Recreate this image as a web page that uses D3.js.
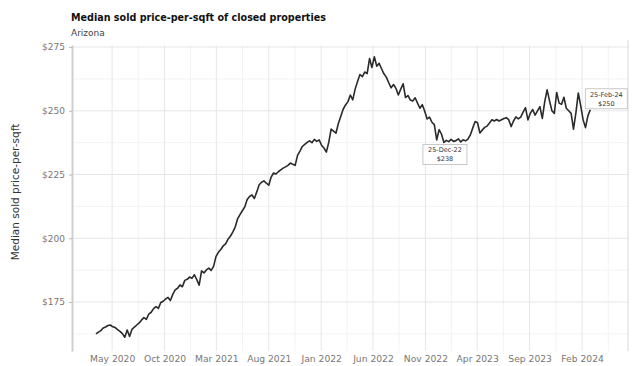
<!DOCTYPE html>
<html>
<head>
<meta charset="utf-8">
<script src="https://cdn.jsdelivr.net/npm/d3@7"></script>
<style>
  html, body { margin: 0; padding: 0; background: #fff; }
  svg { display: block; }
</style>
</head>
<body>
<svg id="chart" width="632" height="366"></svg>
<script>
// ---- data ----
const titleText = "Median sold price-per-sqft of closed properties";
const subtitleText = "Arizona";
const yAxisTitle = "Median sold price-per-sqft";
const firstWeek = "2020-03-15"; // weekly observations (Sundays)
const prices = [
  162.5,163.2,163.8,164.8,165.2,165.8,166.0,165.3,165.0,164.2,
  163.5,162.6,161.2,164.0,161.5,164.3,165.2,166.0,166.8,168.0,
  168.9,168.2,170.3,171.0,172.4,173.2,172.5,174.8,175.3,176.2,
  176.8,175.6,178.0,179.8,180.4,181.7,181.0,183.5,183.9,184.8,
  184.3,185.7,183.8,181.6,187.2,186.4,187.6,188.3,187.4,189.0,
  192.8,194.5,195.6,197.0,197.8,199.6,200.8,202.4,204.4,207.6,
  209.3,210.8,212.3,215.2,216.4,217.0,215.6,218.2,221.0,222.0,
  222.5,221.6,220.8,224.0,225.6,225.2,226.1,226.8,227.5,228.0,
  228.6,229.5,229.0,228.6,232.5,234.2,236.0,236.8,237.6,238.2,
  237.5,238.8,238.0,238.6,236.5,235.4,233.8,237.6,242.8,242.0,
  241.2,245.0,247.8,250.6,252.3,253.6,256.2,254.3,258.5,261.5,
  264.2,263.4,265.2,264.6,270.5,267.0,271.2,267.5,268.6,266.5,
  264.5,263.2,261.0,259.0,260.3,258.8,256.2,258.5,260.6,255.2,
  256.0,254.2,253.8,255.1,253.0,251.0,252.4,249.8,246.8,247.5,
  245.5,244.6,238.6,242.6,240.8,237.6,238.4,237.9,238.8,238.0,
  238.3,239.0,237.8,238.6,238.2,238.9,240.5,243.2,245.8,245.3,
  241.3,242.5,243.5,244.0,245.2,246.5,246.0,246.6,246.0,246.5,
  247.0,247.3,246.5,243.8,246.0,247.6,246.8,247.5,249.5,251.2,
  246.4,249.0,250.5,248.3,250.0,251.6,247.0,253.5,258.2,254.0,
  250.0,249.0,257.2,253.0,252.5,255.3,251.0,250.0,249.0,242.8,
  249.2,257.0,252.0,246.5,243.4,248.0,250.4
];
const xTickDates = ["2020-05-01","2020-10-01","2021-03-01","2021-08-01","2022-01-01",
                    "2022-06-01","2022-11-01","2023-04-01","2023-09-01","2024-02-01"];
const yTickValues = [175, 200, 225, 250, 275];

// ---- build ----
const parse = d3.utcParse("%Y-%m-%d");
const start = parse(firstWeek);
const series = prices.map((v, i) => ({ date: d3.utcDay.offset(start, i * 7), value: v }));
const xTicks = xTickDates.map(parse);

const W = 632, H = 366;
const m = { top: 45, right: 4, bottom: 15, left: 72 };
const svg = d3.select("#chart");

const x = d3.scaleUtc()
  .domain([parse("2020-01-05"), parse("2024-06-14")])
  .range([m.left, W - m.right]);
const y = d3.scaleLinear()
  .domain([155.8, 275.8])
  .range([H - m.bottom, m.top]);

const font = "'DejaVu Sans', Verdana, sans-serif";

// minor grid
const yMinor = d3.range(162.5, 276, 12.5).filter(v => v % 25 !== 0);
svg.append("g").selectAll("line").data(yMinor).join("line")
  .attr("x1", m.left).attr("x2", W - m.right)
  .attr("y1", d => y(d)).attr("y2", d => y(d))
  .attr("stroke", "#f3f3f3").attr("stroke-width", 1);
const xMinor = xTicks.slice(0, -1).map((d, i) => new Date((+d + +xTicks[i + 1]) / 2));
xMinor.push(new Date(+xTicks[xTicks.length - 1] + (+xTicks[1] - +xTicks[0]) / 2));
svg.append("g").selectAll("line").data(xMinor).join("line")
  .attr("x1", d => x(d)).attr("x2", d => x(d))
  .attr("y1", m.top).attr("y2", H - m.bottom)
  .attr("stroke", "#f3f3f3").attr("stroke-width", 1);

// major grid
svg.append("g").selectAll("line").data(yTickValues).join("line")
  .attr("x1", m.left).attr("x2", W - m.right)
  .attr("y1", d => y(d)).attr("y2", d => y(d))
  .attr("stroke", "#e6e6e6").attr("stroke-width", 1);
svg.append("g").selectAll("line").data(xTicks).join("line")
  .attr("x1", d => x(d)).attr("x2", d => x(d))
  .attr("y1", m.top).attr("y2", H - m.bottom)
  .attr("stroke", "#e6e6e6").attr("stroke-width", 1);

// right border
svg.append("line")
  .attr("x1", W - m.right).attr("x2", W - m.right)
  .attr("y1", m.top - 5).attr("y2", H - m.bottom)
  .attr("stroke", "#d9d9d9").attr("stroke-width", 1);

// y axis
const yAxis = svg.append("g")
  .attr("transform", `translate(${m.left},0)`)
  .call(d3.axisLeft(y).tickValues(yTickValues).tickFormat(d => "$" + d).tickSize(3).tickSizeOuter(0));
yAxis.select(".domain").attr("stroke", "#cfcfcf").attr("stroke-width", 2);
yAxis.selectAll(".tick line").attr("stroke", "#bbb");
yAxis.selectAll("text").attr("fill", "#777").attr("font-family", font).attr("font-size", 9).attr("dx", -1);

// x axis
const xAxis = svg.append("g")
  .attr("transform", `translate(0,${H - m.bottom})`)
  .call(d3.axisBottom(x).tickValues(xTicks).tickFormat(d3.utcFormat("%b %Y")).tickSize(0));
xAxis.select(".domain").remove();
xAxis.selectAll("text").attr("fill", "#777").attr("font-family", font).attr("font-size", 9.2).attr("dy", "0.85em");

// line
svg.append("path")
  .datum(series)
  .attr("fill", "none")
  .attr("stroke", "#2a2a2a")
  .attr("stroke-width", 1.6)
  .attr("stroke-linejoin", "round")
  .attr("d", d3.line().x(d => x(d.date)).y(d => y(d.value)));

// annotations: trough after the peak, and the latest value
const fmtDate = d3.utcFormat("%d-%b-%y");
const fmtVal = v => "$" + Math.round(v);
const peakIdx = d3.maxIndex(series, d => d.value);
const after = series.slice(peakIdx);
const minPt = after[d3.minIndex(after, d => d.value)];
const lastPt = series[series.length - 1];

function annotate(pt, bx, by, bw, bh) {
  const g = svg.append("g");
  g.append("rect").attr("x", bx).attr("y", by).attr("width", bw).attr("height", bh)
    .attr("fill", "#fff").attr("fill-opacity", 0.9)
    .attr("stroke", "#bbb").attr("stroke-width", 0.8);
  g.append("text").attr("x", bx + bw / 2).attr("y", by + 8)
    .attr("text-anchor", "middle").attr("font-family", font).attr("font-size", 6.5).attr("fill", "#333")
    .text(fmtDate(pt.date));
  g.append("text").attr("x", bx + bw / 2).attr("y", by + 17)
    .attr("text-anchor", "middle").attr("font-family", font).attr("font-size", 6.5).attr("fill", "#333")
    .text(fmtVal(pt.value));
}
annotate(minPt, x(minPt.date) - 21, y(minPt.value) + 2, 44, 20);
annotate(lastPt, x(lastPt.date) - 5, y(lastPt.value) - 21, 42, 20);

// titles
svg.append("text").attr("x", m.left - 1).attr("y", 21)
  .attr("font-family", font).attr("font-weight", "bold").attr("font-size", 9.6).attr("fill", "#111")
  .text(titleText);
svg.append("text").attr("x", m.left - 1).attr("y", 36)
  .attr("font-family", font).attr("font-size", 9).attr("fill", "#444")
  .text(subtitleText);
svg.append("text")
  .attr("transform", `translate(19,${192}) rotate(-90)`)
  .attr("text-anchor", "middle")
  .attr("font-family", font).attr("font-size", 10.5).attr("fill", "#333")
  .text(yAxisTitle);
</script>
</body>
</html>
